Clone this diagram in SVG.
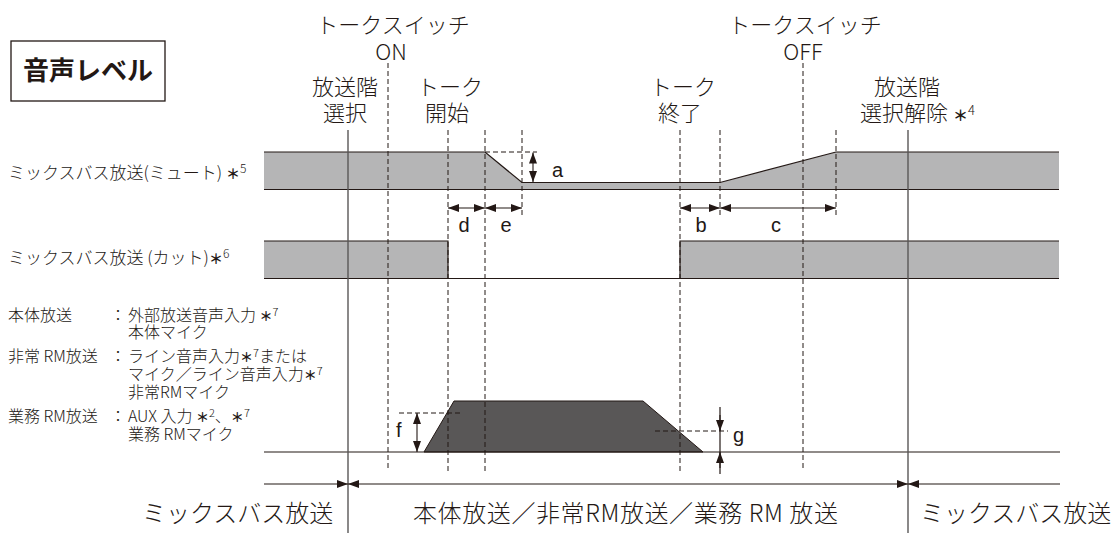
<svg xmlns="http://www.w3.org/2000/svg" width="1114" height="533" viewBox="0 0 1114 533">
<style>
text{font-family:"Noto Sans CJK JP","Noto Sans",sans-serif;fill:#231815}
.lbl{font-size:22px;text-anchor:middle;font-weight:300}
.row{font-size:17px;font-weight:300}
.blk{font-size:16px;font-weight:300}
.let{font-size:20px;font-family:"Liberation Sans","Noto Sans",sans-serif}
.bot{font-size:24px;font-weight:300}
.ln{stroke:#231815;stroke-width:1.2;fill:none}
.dash{stroke:#231815;stroke-width:1;stroke-dasharray:5 3;fill:none}
.sol{stroke:#595757;stroke-width:1.4;fill:none}
.arr{stroke:#231815;stroke-width:1.1;fill:none;marker-end:url(#ah)}
.arr2{stroke:#231815;stroke-width:1.1;fill:none;marker-end:url(#ah);marker-start:url(#ahs)}
.ast{font-weight:bold}
</style>
<defs>
<marker id="ah" markerUnits="userSpaceOnUse" markerWidth="11" markerHeight="8" refX="11" refY="4" orient="auto"><path d="M0,0 L11,4 L0,8 z" fill="#231815"/></marker>
<marker id="ahs" markerUnits="userSpaceOnUse" markerWidth="11" markerHeight="8" refX="11" refY="4" orient="auto-start-reverse"><path d="M0,0 L11,4 L0,8 z" fill="#231815"/></marker>
</defs>
<rect width="1114" height="533" fill="#ffffff"/>

<g id="title">
<rect x="11" y="41" width="154" height="60" fill="#fff" stroke="#231815" stroke-width="1.3"/>
<text x="88" y="80" font-size="26" font-weight="bold" text-anchor="middle">音声レベル</text>
</g>

<g id="band-mute">
<path d="M264,152 L485,152 L522,182.5 L720,182.5 L836,152 L1059,152 L1059,189.5 L264,189.5 Z" fill="#b5b5b6"/>
<path class="ln" d="M264,152 L485,152 L522,182.5 L720,182.5 L836,152 L1059,152"/>
<path class="ln" d="M264,189.5 H1059"/>
</g>

<g id="band-cut">
<rect x="264" y="241" width="184" height="37.5" fill="#b5b5b6"/>
<rect x="680" y="241" width="379" height="37.5" fill="#b5b5b6"/>
<path class="ln" d="M264,241 H448 V278.5"/>
<path class="ln" d="M680,278.5 V241 H1059"/>
<path class="ln" d="M264,278.5 H1059"/>
</g>

<g id="band-main">
<path d="M424,452 L454,401 L643,401 L703,452 Z" fill="#595757" stroke="#231815" stroke-width="1"/>
<path class="ln" d="M264,452 H1060"/>
</g>

<g id="connectors">
<path class="dash" d="M388,63 V471"/>
<path class="dash" d="M448,130 V471"/>
<path class="dash" d="M485,130 V471"/>
<path class="dash" d="M522,130 V215"/>
<path class="dash" d="M680,130 V471"/>
<path class="dash" d="M720,130 V215"/>
<path class="dash" d="M803,63 V471"/>
<path class="dash" d="M836,130 V215"/>
<path class="dash" d="M485,152 H537"/>
<path class="dash" d="M399,413 H460"/>
<path class="dash" d="M655,431 H728"/>
<path class="sol" d="M348,130 V533"/>
<path class="sol" d="M908,130 V533"/>
<path class="arr2" d="M533,152.5 V182"/>
<path class="arr2" d="M448,208 H485"/>
<path class="arr2" d="M485,208 H522"/>
<path class="arr2" d="M680,208 H720"/>
<path class="arr2" d="M720,208 H836"/>
<path class="arr2" d="M417,413 V452"/>
<path class="ln" d="M720,407 V474"/>
<path class="arr" d="M720,415 V431"/>
<path class="arr" d="M720,468 V452"/>
<path class="arr" d="M264,484 H348"/>
<path class="arr2" d="M348,484 H908"/>
<path class="arr" d="M1060,484 H908"/>
</g>

<g id="top-labels">
<text class="lbl" x="393" y="33" font-size="21">トークスイッチ</text>
<text class="lbl" x="391" y="60">ON</text>
<text class="lbl" x="345" y="95">放送階</text>
<text class="lbl" x="345" y="121">選択</text>
<text class="lbl" x="450" y="95">トーク</text>
<text class="lbl" x="447" y="121">開始</text>
<text class="lbl" x="683" y="95">トーク</text>
<text class="lbl" x="680" y="121">終了</text>
<text class="lbl" x="805" y="33" font-size="21">トークスイッチ</text>
<text class="lbl" x="803" y="60">OFF</text>
<text class="lbl" x="907" y="95">放送階</text>
<text x="860" y="121" font-size="22" font-weight="300">選択解除 <tspan class="ast" font-size="15">＊</tspan><tspan font-size="13" dy="-6">4</tspan></text>
</g>

<g id="letters">
<text class="let" x="552" y="177">a</text>
<text class="let" x="464" y="232" text-anchor="middle">d</text>
<text class="let" x="506" y="232" text-anchor="middle">e</text>
<text class="let" x="701" y="232" text-anchor="middle">b</text>
<text class="let" x="776" y="232" text-anchor="middle">c</text>
<text class="let" x="396" y="437">f</text>
<text class="let" x="733" y="442">g</text>
</g>

<g id="row-labels">
<text class="row" x="8" y="179">ミックスバス放送(ミュート) <tspan class="ast" font-size="14">＊</tspan><tspan font-size="12" dy="-6">5</tspan></text>
<text class="row" x="8" y="264">ミックスバス放送 (カット)<tspan class="ast" font-size="14">＊</tspan><tspan font-size="12" dy="-6">6</tspan></text>
</g>

<g id="source-list">
<text class="blk" x="8" y="321">本体放送</text>
<text class="blk" x="8" y="362">非常 RM放送</text>
<text class="blk" x="8" y="422">業務 RM放送</text>
<text class="blk" x="110" y="321">：</text>
<text class="blk" x="110" y="362">：</text>
<text class="blk" x="110" y="422">：</text>
<text class="blk" x="128" y="321">外部放送音声入力 <tspan class="ast" font-size="13">＊</tspan><tspan font-size="11" dy="-5">7</tspan></text>
<text class="blk" x="128" y="338">本体マイク</text>
<text class="blk" x="128" y="362">ライン音声入力<tspan class="ast" font-size="13">＊</tspan><tspan font-size="11" dy="-5">7</tspan><tspan dy="5">または</tspan></text>
<text class="blk" x="128" y="380">マイク／ライン音声入力<tspan class="ast" font-size="13">＊</tspan><tspan font-size="11" dy="-5">7</tspan></text>
<text class="blk" x="128" y="398">非常RMマイク</text>
<text class="blk" x="128" y="422">AUX 入力 <tspan class="ast" font-size="13">＊</tspan><tspan font-size="11" dy="-5">2</tspan><tspan dy="5">、</tspan><tspan class="ast" font-size="13">＊</tspan><tspan font-size="11" dy="-5">7</tspan></text>
<text class="blk" x="128" y="440">業務 RMマイク</text>
</g>

<g id="bottom-labels">
<text class="bot" x="142" y="522">ミックスバス放送</text>
<text class="bot" x="413" y="522" letter-spacing="0.6">本体放送／非常RM放送／業務 RM 放送</text>
<text class="bot" x="920" y="522">ミックスバス放送</text>
</g>
</svg>
